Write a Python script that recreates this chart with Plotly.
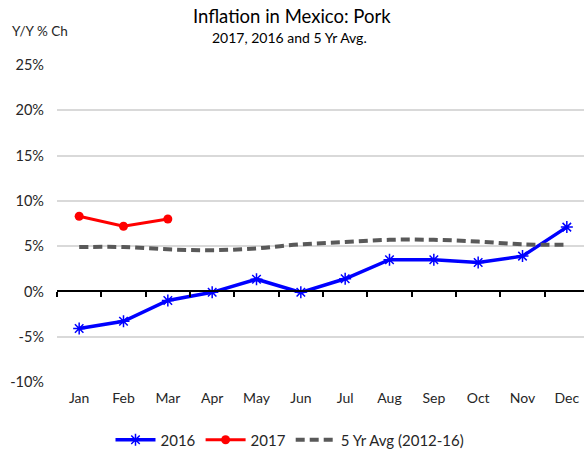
import plotly.graph_objects as go

months = ["Jan", "Feb", "Mar", "Apr", "May", "Jun", "Jul", "Aug", "Sep", "Oct", "Nov", "Dec"]
y2016 = [-4.1, -3.3, -1.0, -0.1, 1.35, -0.1, 1.4, 3.5, 3.5, 3.2, 3.9, 7.1]
y2017 = [8.3, 7.2, 8.0]
avg5 = [4.9, 4.9, 4.65, 4.55, 4.75, 5.2, 5.45, 5.7, 5.7, 5.5, 5.2, 5.15]
yticks = [-10, -5, 0, 5, 10, 15, 20, 25]
ytick_text = ["-10%", "-5%", "0%", "5%", "10%", "15%", "20%", "25%"]

FONT = "Lato"
TXT = "#262626"

W, H = 589, 450
L, R, T, B = 57, 0, 65, 68
H_plot = H - T - B
W_plot = W - L - R


def py(ypix):  # screen pixel -> paper
    return (H - B - ypix) / H_plot


def px(xpix):
    return (xpix - L) / W_plot


fig = go.Figure()
fig.add_trace(go.Scatter(
    x=months, y=avg5, name="5 Yr Avg (2012-16)", mode="lines", legendrank=3,
    line=dict(color="#595959", width=4, dash="9px,5px", shape="spline", smoothing=1),
    xaxis="x2",
))
fig.add_trace(go.Scatter(
    x=months, y=y2016, name="2016", mode="lines+markers", legendrank=1,
    line=dict(color="#0000FF", width=3.5),
    marker=dict(symbol="asterisk-open", size=10, color="#0000FF", line=dict(color="#0000FF", width=1.5)),
))
fig.add_trace(go.Scatter(
    x=months[:len(y2017)], y=y2017, name="2017", mode="lines+markers", legendrank=2,
    line=dict(color="#FF0000", width=3),
    marker=dict(symbol="circle", size=9, color="#FF0000"),
))

fig.update_layout(
    width=W, height=H,
    margin=dict(l=L, r=R, t=T, b=B, autoexpand=False),
    paper_bgcolor="white", plot_bgcolor="white",
    font=dict(family=FONT, size=14, color=TXT),
    showlegend=True,
    legend=dict(orientation="h", x=px(290), xanchor="center", y=py(440), yanchor="middle",
                font=dict(size=15, color=TXT), traceorder="normal", itemwidth=40),
    xaxis=dict(type="category", categoryarray=months, categoryorder="array",
               range=[-0.5, 11.5], showgrid=False, showline=False, ticks="",
               zeroline=False, tickfont=dict(size=14, color=TXT), ticklabelstandoff=6,
               automargin=False),
    xaxis2=dict(type="category", categoryarray=months, categoryorder="array",
                range=[-0.5, 11.5], overlaying="x", anchor="free", position=10 / 35,
                side="bottom", showgrid=False, showline=True, linecolor="black", linewidth=2,
                ticks="outside", tickson="boundaries", ticklen=5, tickcolor="black", tickwidth=1.5,
                showticklabels=False, zeroline=False, automargin=False),
    yaxis=dict(range=[-10, 25], tickvals=yticks, ticktext=ytick_text, showgrid=True,
               gridcolor="#D9D9D9", gridwidth=1.5, zeroline=False, showline=False,
               tickfont=dict(size=14.5, color=TXT), ticklabelstandoff=12, automargin=False),
    annotations=[
        dict(text="Inflation in Mexico: Pork", xref="paper", yref="paper", x=px(292), y=py(15.5),
             xanchor="center", yanchor="middle", showarrow=False, font=dict(size=18.5, color="black")),
        dict(text="Y/Y % Ch", xref="paper", yref="paper", x=px(10), y=py(31),
             xanchor="left", yanchor="middle", showarrow=False, font=dict(size=13.5, color=TXT)),
        dict(text="2017, 2016 and 5 Yr Avg.", xref="paper", yref="paper", x=px(289), y=py(37),
             xanchor="center", yanchor="middle", showarrow=False, font=dict(size=14, color="black")),
    ],
)

fig.write_html(
    "out.html",
    config={"displayModeBar": False},
    post_script="document.body.style.margin='0';document.body.style.overflow='hidden';",
)
